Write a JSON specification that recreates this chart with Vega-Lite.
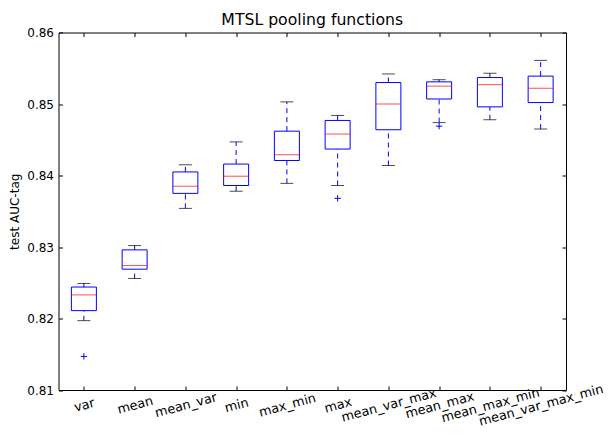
{
  "$schema": "https://vega.github.io/schema/vega-lite/v6.json",
  "width": 507.5,
  "height": 357.5,
  "autosize": "none",
  "padding": {"left": 58.5, "top": 32.5, "right": 43, "bottom": 47},
  "background": "white",
  "title": {"text": "MTSL pooling functions", "font": "DejaVu Sans", "fontSize": 15.7, "fontWeight": "normal", "color": "black", "baseline": "bottom", "offset": 4, "frame": "group", "dy": 21.5},
  "datasets": {
    "stats": [
      {"cat": "var", "lo": 0.8197, "q1": 0.8211, "med": 0.8233, "q3": 0.8244, "hi": 0.8249},
      {"cat": "mean", "lo": 0.8256, "q1": 0.8269, "med": 0.8274, "q3": 0.8296, "hi": 0.8302},
      {"cat": "mean_var", "lo": 0.8354, "q1": 0.8375, "med": 0.8385, "q3": 0.8405, "hi": 0.8415},
      {"cat": "min", "lo": 0.8378, "q1": 0.8386, "med": 0.8399, "q3": 0.8416, "hi": 0.8447},
      {"cat": "max_min", "lo": 0.8389, "q1": 0.8421, "med": 0.8429, "q3": 0.8462, "hi": 0.8503},
      {"cat": "max", "lo": 0.8386, "q1": 0.8437, "med": 0.8458, "q3": 0.8477, "hi": 0.8484},
      {"cat": "mean_var_max", "lo": 0.8414, "q1": 0.8464, "med": 0.85, "q3": 0.853, "hi": 0.8542},
      {"cat": "mean_max", "lo": 0.8474, "q1": 0.8507, "med": 0.8525, "q3": 0.8531, "hi": 0.8534},
      {"cat": "mean_max_min", "lo": 0.8478, "q1": 0.8496, "med": 0.8527, "q3": 0.8537, "hi": 0.8543},
      {"cat": "mean_var_max_min", "lo": 0.8465, "q1": 0.8502, "med": 0.8522, "q3": 0.8539, "hi": 0.8561}
    ],
    "out": [
      {"cat": "var", "v": 0.8147},
      {"cat": "max", "v": 0.8368},
      {"cat": "mean_max", "v": 0.8469}
    ]
  },
  "data": {"name": "stats"},
  "layer": [
    {
      "mark": {"type": "rule", "color": "#0000ff", "strokeWidth": 1, "strokeDash": [5, 4]},
      "encoding": {
        "x": {"field": "cat", "type": "nominal", "sort": null, "scale": {"type": "point", "padding": 0.5},
          "axis": {"orient": "bottom", "title": null, "labelAngle": -15, "labelAlign": "center", "labelBaseline": "middle", "labelPadding": 13, "labelOffset": -1.5, "labelFontSize": 12.8, "labelLineHeight": 6, "labelOverlap": false, "labelBound": false, "labelFlush": false, "labelLimit": 300,
            "labelExpr": "split(pad('', round(length(datum.label)*0.3), '|') + datum.label, '|')"}},
        "y": {"field": "lo", "type": "quantitative", "scale": {"domain": [0.81, 0.86], "nice": false, "zero": false},
          "axis": {"orient": "left", "title": "test AUC-tag", "values": [0.81, 0.82, 0.83, 0.84, 0.85, 0.86], "format": ".2f", "labelPadding": 9, "labelFlush": false, "labelOverlap": false, "titlePadding": 5}},
        "y2": {"field": "q1"}
      }
    },
    {
      "mark": {"type": "rule", "color": "#0000ff", "strokeWidth": 1, "strokeDash": [5, 4]},
      "encoding": {
        "x": {"field": "cat", "type": "nominal", "sort": null, "axis": {"orient": "top", "title": null, "labels": false}},
        "y": {"field": "q3", "type": "quantitative", "axis": {"orient": "right", "title": null, "labels": false, "values": [0.81, 0.82, 0.83, 0.84, 0.85, 0.86]}},
        "y2": {"field": "hi"}
      }
    },
    {
      "mark": {"type": "tick", "color": "black", "size": 13, "thickness": 1, "orient": "horizontal"},
      "encoding": {
        "x": {"field": "cat", "type": "nominal", "sort": null, "axis": null},
        "y": {"field": "lo", "type": "quantitative", "axis": null}
      }
    },
    {
      "mark": {"type": "tick", "color": "black", "size": 13, "thickness": 1, "orient": "horizontal"},
      "encoding": {
        "x": {"field": "cat", "type": "nominal", "sort": null, "axis": null},
        "y": {"field": "hi", "type": "quantitative", "axis": null}
      }
    },
    {
      "mark": {"type": "bar", "fill": "transparent", "stroke": "#0000ff", "strokeWidth": 1, "size": 25},
      "encoding": {
        "x": {"field": "cat", "type": "nominal", "sort": null, "axis": null},
        "y": {"field": "q1", "type": "quantitative", "axis": null},
        "y2": {"field": "q3"}
      }
    },
    {
      "mark": {"type": "tick", "color": "#ff0000", "size": 25, "thickness": 1, "orient": "horizontal"},
      "encoding": {
        "x": {"field": "cat", "type": "nominal", "sort": null, "axis": null},
        "y": {"field": "med", "type": "quantitative", "axis": null}
      }
    },
    {
      "data": {"name": "out"},
      "mark": {"type": "point", "shape": "M-1,0L1,0M0,-1L0,1", "filled": false, "stroke": "#0000ff", "strokeWidth": 1, "size": 40, "opacity": 1},
      "encoding": {
        "x": {"field": "cat", "type": "nominal", "sort": null, "axis": null},
        "y": {"field": "v", "type": "quantitative", "axis": null}
      }
    }
  ],
  "resolve": {"axis": {"x": "independent", "y": "independent"}},
  "config": {
    "view": {"stroke": "black", "strokeWidth": 1},
    "axis": {"domain": false, "grid": false, "ticks": true, "tickColor": "black", "tickSize": -4, "tickWidth": 1, "labelFont": "DejaVu Sans", "labelFontSize": 12, "labelColor": "black", "titleFont": "DejaVu Sans", "titleFontSize": 12, "titleFontWeight": "normal", "titleColor": "black"}
  }
}
